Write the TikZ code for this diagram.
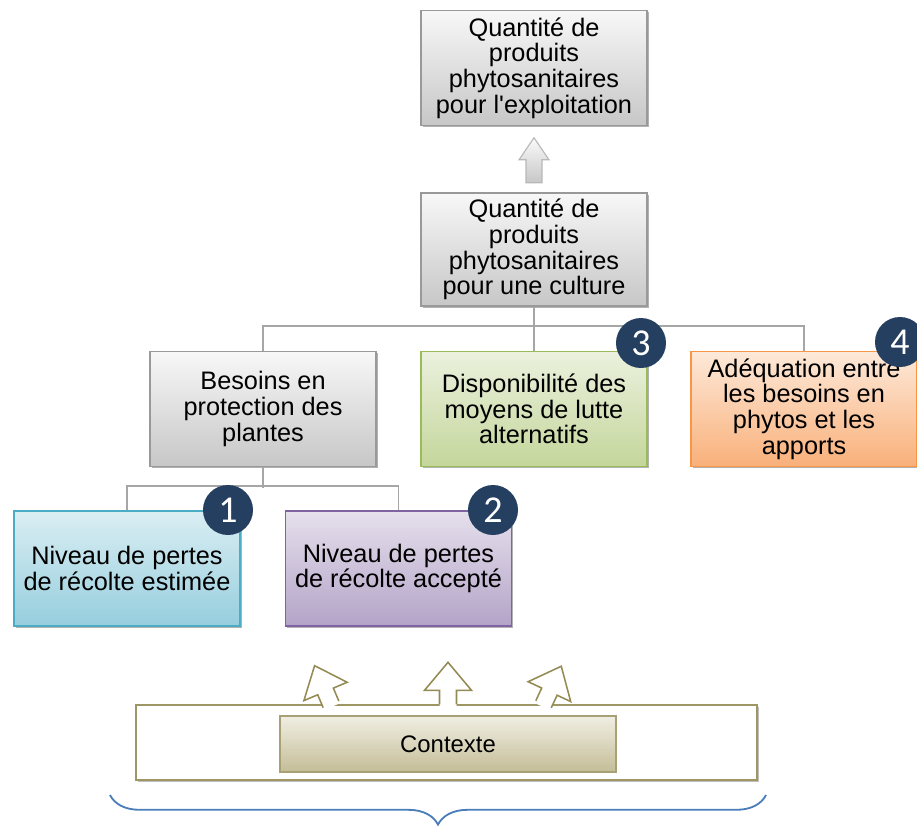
\documentclass[tikz,border=0pt]{standalone}
\usepackage{fontspec}
\setmainfont{Liberation Sans}
\newfontfamily\badgefont{Carlito}
\usetikzlibrary{calc,shadows,decorations.pathreplacing}
\definecolor{linkgrey}{HTML}{A6A6A6}
\definecolor{navy}{HTML}{243F60}
\definecolor{olive}{HTML}{948A54}
\definecolor{bracecol}{HTML}{4A7EBB}
\definecolor{blueline}{HTML}{4BACC6}
\definecolor{bluetop}{HTML}{DAEEF3}
\definecolor{bluebot}{HTML}{96CEDE}
\definecolor{purpleline}{HTML}{8064A2}
\definecolor{purpletop}{HTML}{E5E0EC}
\definecolor{purplebot}{HTML}{B4A3C8}
\definecolor{greenline}{HTML}{9BBB59}
\definecolor{greentop}{HTML}{EBF1DE}
\definecolor{greenbot}{HTML}{C4D69B}
\definecolor{orangeline}{HTML}{F79646}
\definecolor{orangetop}{HTML}{FDE9D9}
\definecolor{orangebot}{HTML}{F9B07A}
\definecolor{ctxtop}{HTML}{F0EEE3}
\definecolor{ctxbot}{HTML}{C4BD97}
\tikzset{
  box/.style={draw=#1, line width=1.1pt, align=center, minimum width=5.65cm, minimum height=2.87cm, inner sep=2pt,
    font=\fontsize{18}{18.3}\selectfont,
    drop shadow={shadow xshift=1.3pt, shadow yshift=-1.3pt, opacity=0.3, fill=black}},
  greybox/.style={box=black!40, top color=black!3, bottom color=black!22},
  bluebox/.style={box=blueline, top color=bluetop, bottom color=bluebot},
  purplebox/.style={box=purpleline, top color=purpletop, bottom color=purplebot},
  greenbox/.style={box=greenline, top color=greentop, bottom color=greenbot},
  orangebox/.style={box=orangeline, top color=orangetop, bottom color=orangebot},
  link/.style={draw=linkgrey, line width=1.4pt},
  badge/.style={circle, fill=navy, text=white, minimum size=1.25cm, inner sep=0pt, font=\badgefont\fontsize{27}{27}\selectfont},
  greyarrow/.style={draw=black!28, line width=0.8pt, top color=black!2, bottom color=black!22, line join=miter},
  ctxbox/.style={draw=olive!90, line width=1.1pt, fill=white, minimum width=15.52cm, minimum height=1.87cm,
    drop shadow={shadow xshift=1.2pt, shadow yshift=-1.2pt, opacity=0.25, fill=black}},
  ctxinner/.style={draw=olive!80, line width=0.8pt, top color=ctxtop, bottom color=ctxbot,
    minimum width=8.4cm, minimum height=1.4cm, font=\fontsize{17}{17}\selectfont},
  ctxarrow/.pic={
    \path[fill=white] (-8.5,2.5) -- (-8.5,-14) -- (-23.5,-14) -- (0,-42) -- (23.5,-14) -- (8.5,-14) -- (8.5,2.5) -- cycle;
    \draw[draw=olive, line width=1.1pt, line join=miter] (-8.5,0) -- (-8.5,-14) -- (-23.5,-14) -- (0,-42) -- (23.5,-14) -- (8.5,-14) -- (8.5,0);
  },
  brace/.style={draw=bracecol, line width=1.3pt, decorate, decoration={brace, mirror, amplitude=0.74cm}}
}

\begin{document}
\begin{tikzpicture}[x=0.025cm, y=-0.025cm]
\useasboundingbox (0,0) rectangle (917,825);

\node[greybox] (top) at (534,68) {Quantité de\\produits\\phytosanitaires\\pour l\textquotesingle exploitation};
\node[greybox, minimum height=2.82cm] (cult) at (534,249.5) {Quantité de\\produits\\phytosanitaires\\pour une culture};
\coordinate (mid) at ($(top.south)!0.5!(cult.north)$);
\draw[greyarrow] ($(mid)+(-8,23.5)$) -- ++(0,-23) -- ++(-7,0) -- ($(mid)+(0,-21.5)$) -- ($(mid)+(15,0.5)$) -- ++(-7,0) -- ++(0,23) -- cycle;

\node[greybox] (bes) at (263,409) {Besoins en\\protection des\\plantes};
\node[greenbox] (dis) at (534,409) {Disponibilité des\\moyens de lutte\\alternatifs};
\node[orangebox] (ade) at (804,409) {Adéquation entre\\les besoins en\\phytos et les\\apports};

\node[bluebox] (est) at (127,568.5) {Niveau de pertes\\de récolte estimée};
\node[purplebox] (acc) at (398.5,568.5) {Niveau de pertes\\de récolte accepté};

\draw[link] (bes.north) -- ++(0,-25) -| (ade.north);
\draw[link] (dis.north) -- (cult.south);
\draw[link] (est.north) -- ++(0,-24) -| (acc.north);
\draw[link] (bes.south) -- ++(0,21);

\node[badge] (b1) at (228,510) {1};
\node[badge] (b2) at (493,510) {2};
\node[badge] (b3) at (641,343) {3};
\node[badge] (b4) at (900,342) {4};

\node[ctxbox] (ctx) at (446.5,742.5) {};
\node[ctxinner] (ctxin) at (448,744) {Contexte};
\pic[rotate=23] at ($(ctx.north)+(-115.5,0)$) {ctxarrow};
\pic at ($(ctx.north)+(1.5,0)$) {ctxarrow};
\pic[rotate=-25] at ($(ctx.north)+(97,0)$) {ctxarrow};

\coordinate (bl) at (110,795);
\coordinate (br) at (766,795);
\draw[brace] (bl) -- (br);
\end{tikzpicture}
\end{document}
